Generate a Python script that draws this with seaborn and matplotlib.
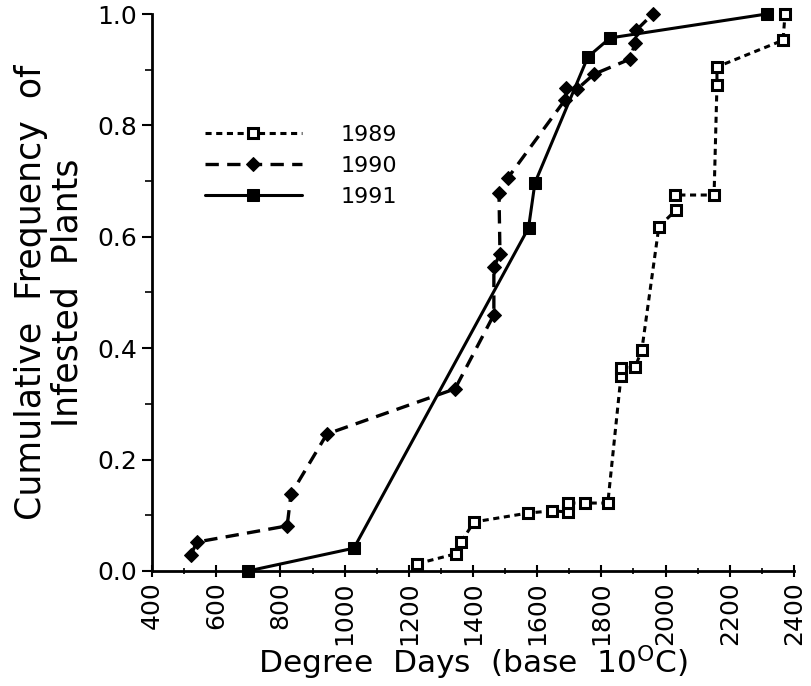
import matplotlib
matplotlib.use("Agg")
import matplotlib.pyplot as plt
import seaborn as sns
from matplotlib.ticker import MultipleLocator

# Data
dd_1989 = [1226, 1347, 1363, 1403, 1571, 1646, 1695, 1695, 1749, 1820, 1861, 1861, 1905, 1926,
           1979, 2032, 2029, 2151, 2160, 2160, 2366, 2372]
cf_1989 = [0.013, 0.031, 0.052, 0.088, 0.104, 0.108, 0.106, 0.122, 0.122, 0.122, 0.350, 0.364,
           0.366, 0.397, 0.618, 0.648, 0.675, 0.675, 0.873, 0.905, 0.953, 1.0]

dd_1990 = [521, 540, 821, 833, 945, 1344, 1465, 1465, 1484, 1481, 1509, 1687, 1690, 1724,
           1777, 1889, 1905, 1909, 1960]
cf_1990 = [0.029, 0.052, 0.081, 0.138, 0.246, 0.327, 0.460, 0.546, 0.569, 0.679, 0.706, 0.846,
           0.867, 0.865, 0.892, 0.919, 0.948, 0.971, 1.0]

dd_1991 = [699, 1029, 1573, 1593, 1758, 1827, 2315]
cf_1991 = [0.0, 0.041, 0.616, 0.697, 0.923, 0.957, 1.0]

years = ["1989", "1990", "1991"]

sns.set_theme(style="ticks")
plt.rcParams['font.family'] = ['DejaVu Sans']
for k in ["text.color", "axes.labelcolor", "xtick.color", "ytick.color", "axes.edgecolor"]:
    plt.rcParams[k] = "black"

fig = plt.figure(figsize=(8.12, 6.86), dpi=100)
ax = fig.add_axes([152/812, 1 - 571/686, (794-152)/812, (571-14)/686])

common = dict(estimator=None, sort=False, color="black", ax=ax, clip_on=False)
sns.lineplot(x=dd_1989, y=cf_1989, linestyle=(0, (2, 1.5)), linewidth=2.2, marker="s",
             markersize=7, markerfacecolor="white", markeredgecolor="black",
             markeredgewidth=2.2, label=years[0], **common)
sns.lineplot(x=dd_1990, y=cf_1990, linestyle=(0, (4, 2.5)), linewidth=2.4, marker="D",
             markersize=7.5, markerfacecolor="black", markeredgecolor="black",
             label=years[1], **common)
sns.lineplot(x=dd_1991, y=cf_1991, linestyle="-", linewidth=2.2, marker="s",
             markersize=9, markerfacecolor="black", markeredgecolor="black",
             label=years[2], **common)

ax.set_xlim(400, 2400)
ax.set_ylim(0, 1.0)
ax.xaxis.set_major_locator(MultipleLocator(200))
ax.xaxis.set_minor_locator(MultipleLocator(100))
ax.yaxis.set_minor_locator(MultipleLocator(0.1))
ax.set_yticks([0, 0.2, 0.4, 0.6, 0.8, 1.0])
ax.set_yticklabels(["0.0", "0.2", "0.4", "0.6", "0.8", "1.0"])
ax.tick_params(axis="x", which="major", labelsize=18, rotation=90, length=8, width=1.5, direction="inout")
ax.tick_params(axis="x", which="minor", length=5, width=1.2, direction="inout")
ax.tick_params(axis="y", which="major", labelsize=18, length=7, width=1.5, direction="out")
ax.tick_params(axis="y", which="minor", length=5, width=1.2, direction="out")
for s in ["top", "right"]:
    ax.spines[s].set_visible(False)
for s in ["left", "bottom"]:
    ax.spines[s].set_linewidth(2.0)

ax.set_xlabel("Degree  Days  (base  10$^{\\mathrm{O}}$C)", fontsize=22.5)
ax.xaxis.set_label_coords(0.5, (571 - 643) / 557)
ax.set_ylabel("Cumulative  Frequency  of\nInfested  Plants", fontsize=25, linespacing=1.1)
ax.yaxis.set_label_coords((85 - 152) / 642, 0.5)

leg = ax.legend(loc="upper left", bbox_to_anchor=(0.068, 0.817), frameon=False, fontsize=16,
                handlelength=4.4, handletextpad=1.7, labelspacing=0.5, borderaxespad=0)

fig.savefig("out.png", dpi=100)
